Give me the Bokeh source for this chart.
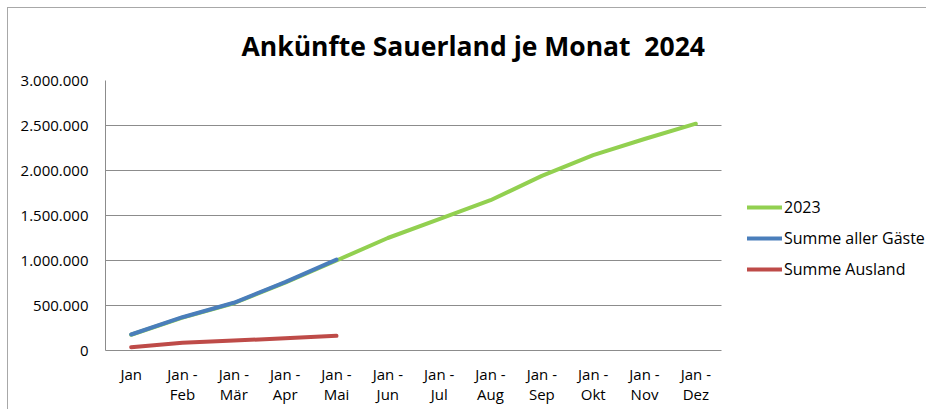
from bokeh.plotting import figure
from bokeh.models import Range1d, FixedTicker, Legend, LegendItem
from bokeh.embed import file_html
from bokeh.resources import INLINE

# ---- data ----
months = ["Jan", "Jan -\nFeb", "Jan -\nMär", "Jan -\nApr", "Jan -\nMai", "Jan -\nJun",
          "Jan -\nJul", "Jan -\nAug", "Jan -\nSep", "Jan -\nOkt", "Jan -\nNov", "Jan -\nDez"]
series_2023 = [175000, 365000, 525000, 755000, 1000000, 1250000,
               1460000, 1670000, 1940000, 2170000, 2350000, 2520000]
summe_aller_gaeste = [178000, 370000, 530000, 760000, 1010000]
summe_ausland = [37000, 85000, 110000, 137000, 163000]
y_ticks = [0, 500000, 1000000, 1500000, 2000000, 2500000, 3000000]
y_tick_labels = ["0", "500.000", "1.000.000", "1.500.000", "2.000.000", "2.500.000", "3.000.000"]

FONT = "Open Sans"
GRID = "#8c8c8c"

idx = list(range(len(months)))
n = len(months)
# plot area holds the 12 month slots; the remaining canvas to the right holds the legend
x_end = -0.5 + n * 822 / 616

p = figure(width=919, height=402, output_backend="svg", toolbar_location=None,
           x_range=Range1d(-0.5, x_end), y_range=Range1d(0, 3000000),
           min_border_left=97, min_border_right=0, min_border_top=72, min_border_bottom=60,
           title="Ankünfte Sauerland je Monat \u00a02024")
p.styles = {"margin-left": "7px", "margin-top": "7px",
            "border-top": "1px solid #a8a8a8", "border-left": "1px solid #a8a8a8"}
p.outline_line_color = None
p.background_fill_color = "white"
p.border_fill_color = "white"

p.title.text_font = FONT
p.title.text_font_size = "26.5px"
p.title.text_font_style = "bold"
p.title.text_color = "black"
p.title.align = "left"
p.title.offset = 136
p.title.standoff = 34

r1 = p.line(idx, series_2023, line_color="#92D050", line_width=4, line_cap="round", line_join="round")
r2 = p.line(idx[:len(summe_aller_gaeste)], summe_aller_gaeste, line_color="#4A7EBB", line_width=4,
            line_cap="round", line_join="round")
r3 = p.line(idx[:len(summe_ausland)], summe_ausland, line_color="#BE4B48", line_width=4,
            line_cap="round", line_join="round")

p.xgrid.grid_line_color = None
p.ygrid.grid_line_color = GRID
p.ygrid.grid_line_width = 1
p.ygrid.ticker = FixedTicker(ticks=y_ticks)
p.ygrid.cross_bounds = (-0.5, n - 0.5)

p.yaxis.ticker = FixedTicker(ticks=y_ticks)
p.yaxis.major_label_overrides = {t: l for t, l in zip(y_ticks, y_tick_labels)}
p.yaxis.axis_line_color = GRID
p.yaxis.major_tick_out = 0
p.yaxis.major_tick_in = 0
p.yaxis.minor_tick_out = 0
p.yaxis.minor_tick_in = 0
p.yaxis.major_label_standoff = 17
p.yaxis.major_label_text_font = FONT
p.yaxis.major_label_text_font_size = "15px"
p.yaxis.major_label_text_color = "black"

p.xaxis.ticker = FixedTicker(ticks=idx)
p.xaxis.major_label_overrides = {i: m for i, m in zip(idx, months)}
p.xaxis.bounds = (-0.5, n - 0.5)
p.xaxis.axis_line_color = GRID
p.xaxis.major_tick_out = 0
p.xaxis.major_tick_in = 0
p.xaxis.minor_tick_out = 0
p.xaxis.minor_tick_in = 0
p.xaxis.major_label_standoff = 13
p.xaxis.major_label_text_font = FONT
p.xaxis.major_label_text_font_size = "15px"
p.xaxis.major_label_text_color = "black"
p.xaxis.major_label_text_line_height = 1.0

legend = Legend(items=[LegendItem(label="2023", renderers=[r1]),
                       LegendItem(label="Summe aller Gäste", renderers=[r2]),
                       LegendItem(label="Summe Ausland", renderers=[r3])],
                location=(642, 70), orientation="vertical")
legend.border_line_color = None
legend.background_fill_alpha = 0
legend.padding = 0
legend.margin = 0
legend.spacing = 9
legend.glyph_width = 35
legend.glyph_height = 20
legend.label_height = 20
legend.label_standoff = 2
legend.label_text_font = FONT
legend.label_text_font_size = "16px"
legend.label_text_color = "black"
p.add_layout(legend, "center")

open("out.html", "w").write(file_html(p, INLINE))
